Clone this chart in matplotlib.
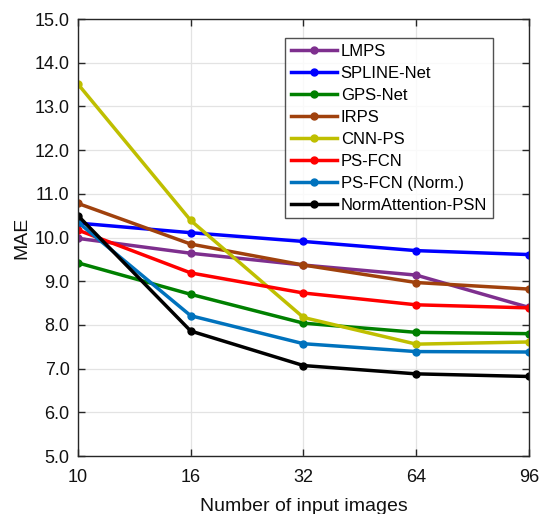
import matplotlib.pyplot as plt
import numpy as np

plt.rcParams['font.family'] = ['Liberation Sans', 'DejaVu Sans']

# 数据
n_images = ['10', '16', '32', '64', '96']
methods = ['LMPS', 'SPLINE-Net', 'GPS-Net', 'IRPS', 'CNN-PS',
           'PS-FCN', 'PS-FCN (Norm.)', 'NormAttention-PSN']
lmps = [9.98, 9.64, 9.37, 9.14, 8.40]
spline_net = [10.33, 10.11, 9.91, 9.70, 9.61]
gps_net = [9.42, 8.70, 8.04, 7.83, 7.80]
irps = [10.78, 9.85, 9.37, 8.97, 8.82]
cnn_ps = [13.51, 10.39, 8.17, 7.56, 7.61]
ps_fcn = [10.17, 9.19, 8.73, 8.46, 8.39]
ps_fcn_norm = [10.35, 8.21, 7.57, 7.39, 7.38]
norm_attention = [10.50, 7.86, 7.07, 6.88, 6.82]

series = [lmps, spline_net, gps_net, irps, cnn_ps, ps_fcn, ps_fcn_norm, norm_attention]
colors = ['#7E2F8E', '#0000FF', '#008000', '#A0410D', '#BFBF00',
          '#FF0000', '#0072BD', '#000000']

fig = plt.figure(figsize=(5.39, 5.14), dpi=100)
ax = fig.add_axes([0.1447, 0.1128, 0.8367, 0.8502])

x = np.arange(len(n_images))
for vals, name, c in zip(series, methods, colors):
    ax.plot(x, vals, color=c, lw=2.5, marker='o', ms=5, label=name)

ax.set_xlim(0, len(n_images) - 1)
ax.set_ylim(5, 15)
ax.set_xticks(x)
ax.set_xticklabels(n_images)
ax.set_yticks(np.arange(5, 15.1, 1))
ax.set_yticklabels([f'{v:.1f}' for v in np.arange(5, 15.1, 1)])
ax.tick_params(direction='in', length=5, width=1, labelsize=13,
               top=True, right=True, color='#262626', labelcolor='#111111')
ax.tick_params(axis='x', pad=9)
ax.tick_params(axis='y', pad=6)
ax.grid(True, color='#e3e3e3', lw=0.9)
for s in ax.spines.values():
    s.set_color('#262626')
    s.set_linewidth(1)

ax.set_xlabel('Number of input images', fontsize=14, color='#111111', labelpad=9)
ax.set_ylabel('MAE', fontsize=14, color='#111111', labelpad=3)

leg = ax.legend(loc='upper right', bbox_to_anchor=(0.92, 0.957), fontsize=12,
                frameon=True, fancybox=False, edgecolor='#262626',
                handlelength=2.75, labelspacing=0.42, borderpad=0.35,
                handletextpad=0.25, borderaxespad=0)
leg.get_frame().set_linewidth(1)

plt.savefig('out.png', dpi=100, facecolor='white')
plt.close()
